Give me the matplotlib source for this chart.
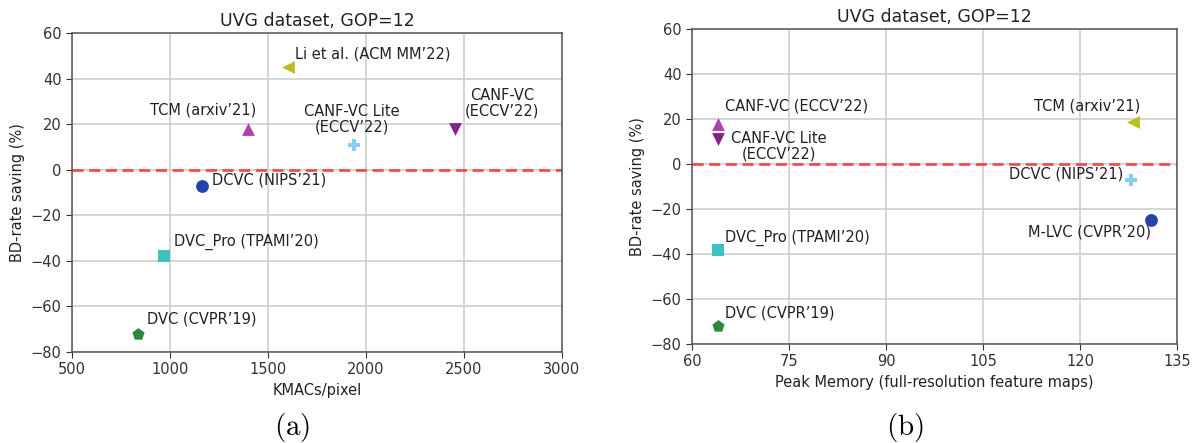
import numpy as np
import matplotlib
matplotlib.use('Agg')
import matplotlib.pyplot as plt

plt.rcParams['mathtext.fontset'] = 'cm'

# =====================
# DATA — (a) complexity
# =====================
a_names = ['DVC (CVPR’19)', 'DVC_Pro (TPAMI’20)', 'DCVC (NIPS’21)', 'TCM (arxiv’21)',
           'Li et al. (ACM MM’22)', 'CANF-VC Lite\n(ECCV’22)', 'CANF-VC\n(ECCV’22)']
a_kmacs = [835, 970, 1165, 1400, 1600, 1940, 2455]
a_bd    = [-72, -38, -7, 18, 45, 11, 18]
a_mark  = ['p', 's', 'o', '^', '<', 'P', 'v']
a_col   = ['#2a8a3a', '#3cc0c0', '#2244aa', '#b040a8', '#bcbd22', '#87cef0', '#852288']
a_txt_x = [885, 1021, 1212, 1168, 1640, 1926, 2695]
a_txt_y = [-65.7, -31.8, -4.7, 26, 51, 22, 29.3]
a_ha    = ['left', 'left', 'left', 'center', 'left', 'center', 'center']

# =====================
# DATA — (b) peak memory
# =====================
b_names = ['DVC (CVPR’19)', 'DVC_Pro (TPAMI’20)', 'CANF-VC (ECCV’22)', 'CANF-VC Lite\n(ECCV’22)',
           'TCM (arxiv’21)', 'DCVC (NIPS’21)', 'M-LVC (CVPR’20)']
b_mem   = [64, 64, 64, 64, 128.2, 127.9, 131]
b_bd    = [-72, -38, 18, 11, 18.5, -7, -25]
b_mark  = ['p', 's', '^', 'v', '<', 'P', 'o']
b_col   = ['#2a8a3a', '#3cc0c0', '#b040a8', '#852288', '#bcbd22', '#87cef0', '#2244aa']
b_txt_x = [65.1, 65.1, 65.1, 73.4, 121.1, 117.8, 121.4]
b_txt_y = [-66.4, -32.7, 25.8, 8, 25.8, -4.4, -30.4]
b_ha    = ['left', 'left', 'left', 'center', 'center', 'center', 'center']

fig = plt.figure(figsize=(12.02, 4.43), dpi=100)
ax1 = fig.add_axes([72/1202, 1-352/443, 490/1202, 319/443])
ax2 = fig.add_axes([692/1202, 1-344/443, 485/1202, 315/443])


def draw(ax, xs, ys, marks, cols, names, tx, ty, has):
    for x, y, m, c in zip(xs, ys, marks, cols):
        ax.scatter(x, y, marker=m, color=c, s=85, zorder=3, linewidths=0)
    for n, x, y, h in zip(names, tx, ty, has):
        ax.text(x, y, n, ha=h, va='center', fontsize=10.5, color='#222222',
                multialignment='center', linespacing=1.05, zorder=4)
    ax.axhline(0, color='#ff3030', linestyle=(0, (4, 2)), linewidth=2, alpha=0.85, zorder=2)
    ax.set_ylim(-80, 60)
    ax.set_yticks(np.arange(-80, 61, 20))
    ax.grid(True, color='#c8cccc', linewidth=1.1)
    ax.set_axisbelow(True)
    ax.set_title('UVG dataset, GOP=12', fontsize=12.5, color='#222222', pad=5)
    ax.set_ylabel('BD-rate saving (%)', fontsize=10.5, color='#222222')
    ax.tick_params(labelsize=10.5, colors='#333333', length=4)
    for s in ax.spines.values():
        s.set_color('#555555')
        s.set_linewidth(1.1)


draw(ax1, a_kmacs, a_bd, a_mark, a_col, a_names, a_txt_x, a_txt_y, a_ha)
ax1.set_xlim(500, 3000)
ax1.set_xticks(np.arange(500, 3001, 500))
ax1.set_xlabel('KMACs/pixel', fontsize=10.5, color='#222222')

draw(ax2, b_mem, b_bd, b_mark, b_col, b_names, b_txt_x, b_txt_y, b_ha)
ax2.set_xlim(60, 135)
ax2.set_xticks(np.arange(60, 136, 15))
ax2.set_xlabel('Peak Memory (full-resolution feature maps)', fontsize=10.5, color='#222222')

fig.text(292/1202, 1-428/443, r'$\mathrm{(a)}$', ha='center', va='center', fontsize=21)
fig.text(905/1202, 1-428/443, r'$\mathrm{(b)}$', ha='center', va='center', fontsize=21)

fig.savefig('out.png', dpi=100)
